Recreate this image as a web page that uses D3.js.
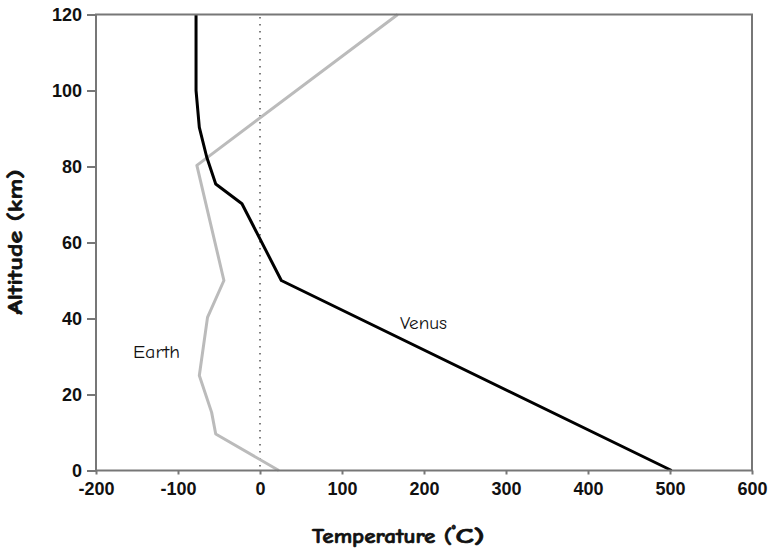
<!DOCTYPE html>
<html><head><meta charset="utf-8">
<script src="https://cdn.jsdelivr.net/npm/d3@7"></script>
<style>
body{margin:0;background:#fff;}
text{font-family:"Comic Sans MS","Comic Neue","DejaVu Sans",sans-serif;}
</style></head>
<body><svg id="c" width="768" height="552"></svg>
<script>
const xTicks = [-200,-100,0,100,200,300,400,500,600];
const yTicks = [0,20,40,60,80,100,120];
const earthTemp = [23,-54,-59,-74,-64,-44,-77,168];
const earthAlt  = [0,9.6,15.3,25,40.3,50,80.3,120];
const venusTemp = [502,26,-22,-54,-65,-74,-78,-78];
const venusAlt  = [0,50,70.2,75.4,82.5,90.3,100,120];

const svg = d3.select("#c");
const L=96,R=752,T=14.5,B=470.5;
const x = d3.scaleLinear().domain([-200,600]).range([L,R]);
const y = d3.scaleLinear().domain([0,120]).range([B,T]);
const frame="#777";

svg.append("line").attr("x1",x(0)).attr("x2",x(0)).attr("y1",y(0)).attr("y2",y(120))
  .attr("stroke","#555").attr("stroke-width",1.5).attr("stroke-dasharray","1.5,5.5").attr("stroke-dashoffset",-4);

const line = d3.line().x(d=>x(d[0])).y(d=>y(d[1]));
svg.append("path").datum(earthTemp.map((t,i)=>[t,earthAlt[i]])).attr("d",line)
  .attr("fill","none").attr("stroke","#bbb").attr("stroke-width",3).attr("stroke-linejoin","round");
svg.append("path").datum(venusTemp.map((t,i)=>[t,venusAlt[i]])).attr("d",line)
  .attr("fill","none").attr("stroke","#000").attr("stroke-width",3).attr("stroke-linejoin","round");

svg.append("rect").attr("x",L).attr("y",T).attr("width",R-L).attr("height",B-T)
  .attr("fill","none").attr("stroke",frame).attr("stroke-width",2);

const tickFont = '"Liberation Sans",Arial,sans-serif';
const fmt = d => String(d);
const xa = svg.append("g").attr("transform",`translate(0,${B})`)
  .call(d3.axisBottom(x).tickValues(xTicks).tickSize(4).tickPadding(4).tickFormat(fmt));
const ya = svg.append("g").attr("transform",`translate(${L},0)`)
  .call(d3.axisLeft(y).tickValues(yTicks).tickSize(9).tickPadding(5).tickFormat(fmt));
[xa,ya].forEach(g=>{
  g.select(".domain").remove();
  g.selectAll(".tick line").attr("stroke",frame).attr("stroke-width",2);
  g.selectAll(".tick text").attr("fill","#111").attr("font-size",18).attr("font-weight","bold")
   .style("font-family",tickFont);
});
xa.selectAll(".tick text").attr("dy","0.78em").attr("y",10);

function bolden(t){ return t.attr("stroke","#111").attr("stroke-width",0.7); }

svg.append("text").attr("x",400).attr("y",329).attr("font-size",17).attr("fill","#111")
  .attr("textLength",47).attr("lengthAdjust","spacingAndGlyphs").text("Venus");
svg.append("text").attr("x",133).attr("y",358).attr("font-size",17).attr("fill","#111")
  .attr("textLength",47).attr("lengthAdjust","spacingAndGlyphs").text("Earth");

const xt = bolden(svg.append("text").attr("x",312).attr("y",543)
  .attr("font-size",21).attr("font-weight","bold").attr("fill","#111"));
xt.append("tspan").attr("textLength",140).attr("lengthAdjust","spacingAndGlyphs").text("Temperature (");
xt.append("tspan").attr("font-size",13).attr("dy",-8).text("°");
xt.append("tspan").attr("dy",8).attr("textLength",29).attr("lengthAdjust","spacingAndGlyphs").text("C)");

bolden(svg.append("text").attr("transform","translate(22,242) rotate(-90)").attr("text-anchor","middle")
  .attr("font-size",21).attr("font-weight","bold").attr("fill","#111")
  .attr("textLength",145).attr("lengthAdjust","spacingAndGlyphs").text("Altitude (km)"));
</script></body></html>
